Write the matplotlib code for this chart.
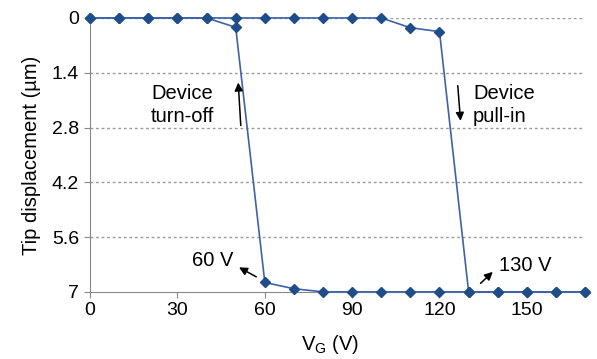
import numpy as np
import matplotlib
matplotlib.use('Agg')
import matplotlib.pyplot as plt

# voltage sweep (V) and tip displacement (um)
vg_up = [0, 10, 20, 30, 40, 50, 60, 70, 80, 90, 100, 110, 120, 130, 140, 150, 160, 170]
disp_up = [0, 0, 0, 0, 0, 0, 0, 0, 0, 0, 0, 0.25, 0.35, 7, 7, 7, 7, 7]
vg_down = [170, 160, 150, 140, 130, 120, 110, 100, 90, 80, 70, 60, 50, 40, 30, 20, 10, 0]
disp_down = [7, 7, 7, 7, 7, 7, 7, 7, 7, 7, 6.92, 6.76, 0.24, 0, 0, 0, 0, 0]

xticks = [0, 30, 60, 90, 120, 150]
yticks = [0, 1.4, 2.8, 4.2, 5.6, 7]
ytick_labels = ['0', '1.4', '2.8', '4.2', '5.6', '7']

plt.rcParams['font.family'] = ['Liberation Sans', 'DejaVu Sans']

fig = plt.figure(figsize=(5.97, 3.59), dpi=100)
ax = fig.add_axes([0.151, 0.187, 0.829, 0.763])

line_c = '#3d62aa'
mark_c = '#1f4d8a'
ax.plot(vg_up, disp_up, color=line_c, lw=1.2, marker='D', ms=5.5,
        mfc=mark_c, mec=mark_c, zorder=3, clip_on=False)
ax.plot(vg_down, disp_down, color=line_c, lw=1.2, marker='D', ms=5.5,
        mfc=mark_c, mec=mark_c, zorder=3, clip_on=False)

ax.set_xlim(0, 170)
ax.set_ylim(7, 0)
ax.set_xticks(xticks)
ax.set_yticks(yticks)
ax.set_yticklabels(ytick_labels)
for y in yticks[:-1]:
    ax.axhline(y, color='#999999', lw=1, ls=(0, (2, 2)), zorder=1)

for s in ['top', 'right']:
    ax.spines[s].set_visible(False)
for s in ['left', 'bottom']:
    ax.spines[s].set_color('#888888')
ax.tick_params(axis='both', labelsize=14, color='#888888', length=4, direction='out')
ax.tick_params(axis='x', pad=3)
ax.tick_params(axis='y', pad=4)

ax.set_xlabel('V$_\\mathregular{G}$ (V)', fontsize=14.5)
ax.xaxis.set_label_coords(0.485, -0.15)
ax.set_ylabel('Tip displacement (µm)', fontsize=14.5, labelpad=8)

arr = dict(arrowstyle='-|>', color='black', lw=1.1, mutation_scale=12)
ax.annotate('', xy=(50.8, 1.58), xytext=(51.8, 2.82), arrowprops=arr)
ax.text(31.7, 2.22, 'Device\nturn-off', fontsize=14.5, ha='center', va='center', linespacing=1.3)
ax.annotate('', xy=(127.3, 2.7), xytext=(126.2, 1.66), arrowprops=arr)
ax.text(131.5, 2.22, 'Device\npull-in', fontsize=14.5, ha='left', va='center', linespacing=1.3)

ax.text(49.3, 6.19, '60 V', fontsize=14.5, ha='right', va='center')
ax.annotate('', xy=(50.3, 6.34), xytext=(57.9, 6.65), arrowprops=arr)
ax.text(140.5, 6.32, '130 V', fontsize=14.5, ha='left', va='center')
ax.annotate('', xy=(139, 6.44), xytext=(133.4, 6.83), arrowprops=arr)

fig.savefig('out.png', dpi=100)
